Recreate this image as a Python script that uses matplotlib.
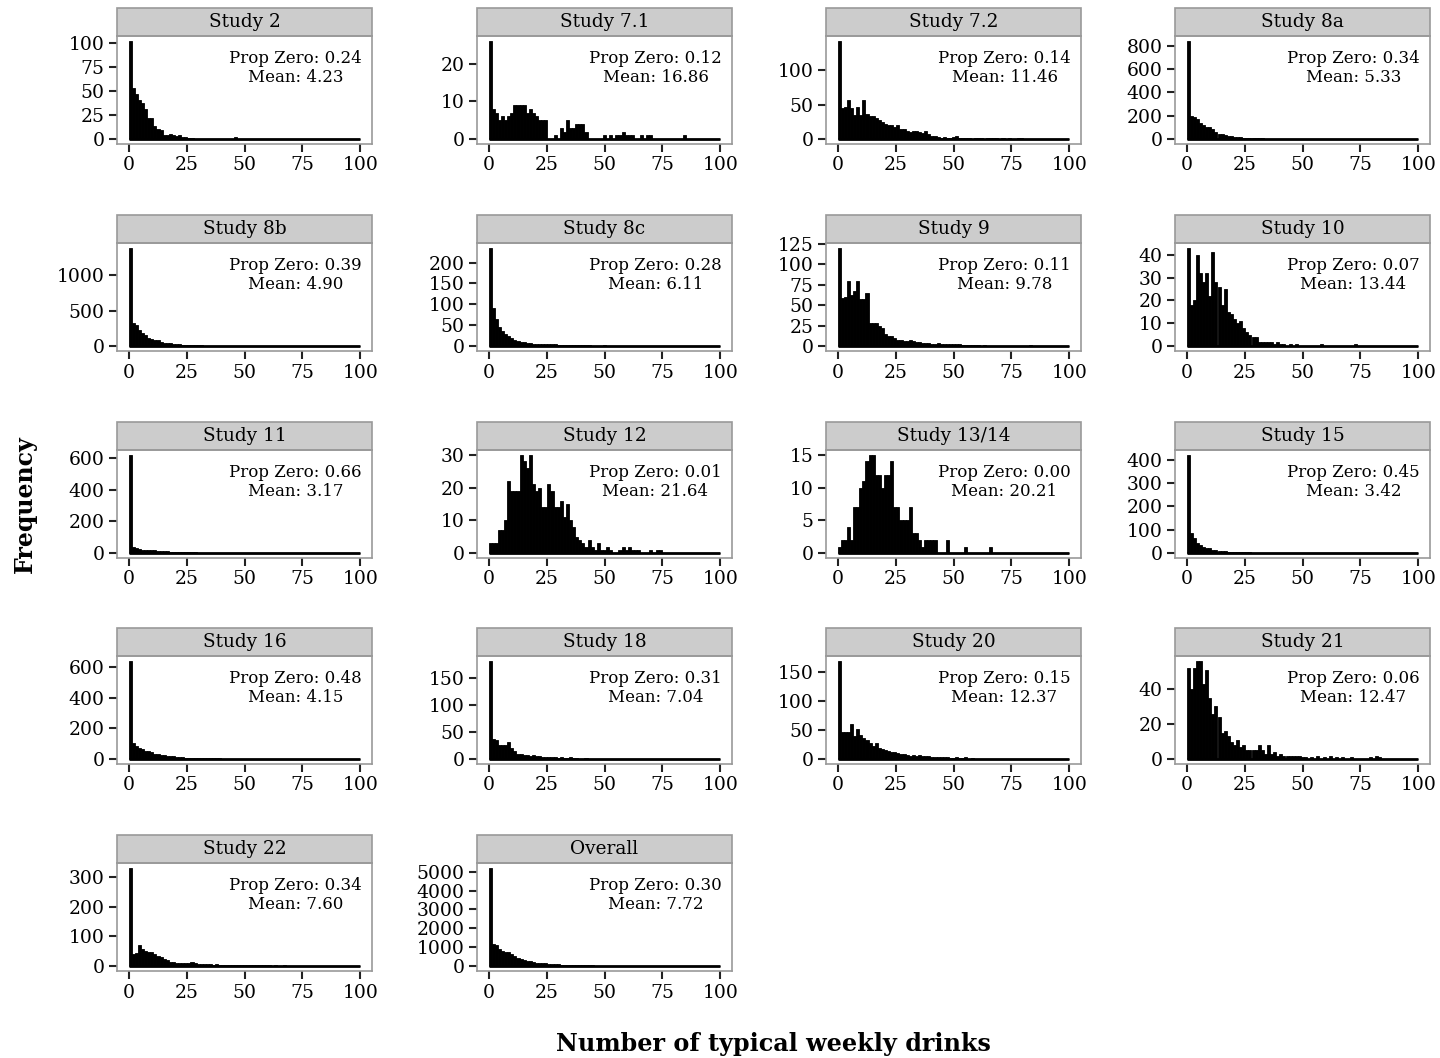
import matplotlib
matplotlib.use("Agg")
import matplotlib.pyplot as plt
from matplotlib.patches import Rectangle
from matplotlib.ticker import MultipleLocator
import numpy as np

plt.rcParams['font.family'] = ['DejaVu Serif']

# counts per bin (bins of 100/75 drinks starting at 0)
study2 = [102, 53, 47, 41, 37, 31, 22, 22, 14, 11, 9, 4, 4, 5, 4, 3, 4, 2, 2, 1, 1,
          0, 0, 0, 0, 0, 0, 0, 0, 0, 0, 0, 0, 0, 2]
study7_1 = [26, 8, 7, 5, 6, 5, 6, 7, 9, 9, 9, 9, 7, 8, 7, 6, 5, 5, 5, 0, 0, 1, 0, 3, 2,
            5, 3, 3, 4, 4, 4, 2, 0, 0, 0, 0, 0, 1, 0, 1, 0, 1, 1, 2, 1, 1, 1, 0, 0, 1,
            0, 1, 1, 0, 0, 0, 0, 0, 0, 0, 0, 0, 0, 1]
study7_2 = [142, 45, 46, 57, 45, 35, 46, 35, 57, 37, 33, 33, 30, 27, 25, 22, 21, 20, 18,
            20, 15, 14, 12, 10, 11, 12, 10, 9, 11, 7, 5, 4, 3, 2, 3, 2, 2, 3, 4, 1, 1, 1,
            1, 0, 1, 1, 1, 0, 1, 1, 2, 1, 0, 1, 0, 1, 0, 0, 1, 1]
study8a = [840, 200, 185, 175, 140, 120, 100, 100, 90, 60, 45, 40, 35, 25, 25, 20, 18,
           15, 12, 12, 10, 8, 8, 6, 6, 5, 5, 5, 4, 4, 4, 3, 3, 3, 3, 3, 2, 2, 2, 2, 2, 1,
           2, 1, 1, 2, 1, 1, 1, 1, 1, 1, 1, 0, 1, 1, 1, 0, 1, 1, 0, 1, 0, 1, 0, 0, 1, 0,
           0, 0, 1, 0, 0, 0, 1]
study8b = [1380, 320, 290, 230, 190, 150, 120, 100, 90, 80, 60, 50, 40, 40, 30, 25, 25,
           20, 20, 15, 15, 12, 10, 10, 8, 8, 6, 6, 5, 5, 5, 4, 4, 4, 3, 3, 3, 3, 2, 2, 2,
           2, 2, 2, 1, 1, 1, 1, 1, 1, 1, 1, 1, 1, 1, 1, 1, 1, 1, 1, 1, 1, 1, 1, 1, 1, 1,
           1, 1, 1, 1, 1, 1, 1, 2]
study8c = [235, 92, 65, 45, 35, 30, 25, 20, 15, 12, 10, 10, 8, 8, 6, 6, 5, 5, 5, 4, 4, 4,
           3, 3, 3, 3, 2, 2, 2, 2, 2, 2, 2, 1, 1, 1, 1, 2, 1, 1, 1, 1, 1, 1, 0, 1, 1, 0,
           1, 1, 0, 1, 0, 1, 0, 1, 0, 0, 1, 0, 1, 0, 0, 1, 0, 0, 1, 0, 0, 0, 1, 0, 0, 0, 1]
study9 = [120, 59, 60, 79, 62, 67, 80, 57, 58, 65, 28, 28, 28, 25, 22, 15, 12, 12, 10, 8,
          7, 6, 6, 7, 6, 5, 5, 4, 4, 4, 3, 3, 4, 3, 3, 2, 2, 3, 2, 2, 1, 1, 1, 1, 1, 1, 0,
          1, 0, 0, 0, 0, 0, 0, 0, 0, 0, 0, 0, 0, 0, 0, 1]
study10 = [43, 18, 20, 40, 32, 28, 32, 22, 41, 28, 26, 18, 25, 15, 14, 12, 10, 11, 8, 6,
           5, 4, 4, 2, 2, 2, 2, 2, 1, 2, 1, 1, 0, 1, 0, 1, 0, 0, 0, 0, 0, 0, 0, 1, 0, 0,
           0, 0, 0, 0, 0, 0, 0, 0, 1]
study11 = [620, 40, 30, 25, 22, 22, 20, 18, 20, 15, 15, 12, 12, 10, 10, 8, 8, 6, 5, 5, 4,
           4, 3, 3, 3, 2, 2, 2, 2, 2, 1, 1, 1, 1, 1, 1, 1, 1, 0, 1, 1, 0, 1, 0, 1, 0, 0,
           1, 0, 0, 1]
study12 = [3, 3, 3, 7, 7, 10, 22, 19, 19, 19, 30, 28, 26, 30, 21, 19, 20, 14, 14, 21, 19,
           14, 14, 16, 11, 15, 10, 8, 5, 4, 3, 2, 4, 2, 1, 3, 1, 1, 2, 1, 0, 0, 1, 2, 1,
           2, 1, 1, 1, 0, 0, 0, 1, 0, 1, 1]
study13_14 = [1, 2, 2, 4, 2, 7, 7, 10, 11, 14, 15, 15, 12, 12, 10, 12, 12, 14, 7, 7, 5, 5,
              5, 7, 3, 3, 2, 1, 2, 2, 2, 2, 0, 0, 0, 2, 0, 0, 0, 0, 0, 1, 0, 0, 0, 0, 0,
              0, 0, 1]
study15 = [420, 85, 65, 45, 35, 28, 22, 20, 15, 12, 10, 10, 8, 6, 6, 5, 4, 4, 3, 3, 3, 2,
           2, 2, 2, 2, 1, 1, 1, 1, 1, 1, 0, 1, 1, 0, 1, 0, 0, 1, 0, 1, 0, 0, 1]
study16 = [640, 105, 85, 70, 65, 55, 50, 45, 35, 30, 28, 25, 22, 20, 18, 15, 15, 12, 10,
           10, 8, 8, 7, 6, 6, 5, 5, 4, 4, 4, 3, 3, 3, 3, 2, 2, 2, 2, 2, 1, 2, 1, 1, 1, 1,
           1, 1, 1, 1, 1, 1, 0, 1, 1, 0, 1, 0, 1, 0, 0, 1, 0, 0, 1, 0, 0, 0, 1]
study18 = [182, 38, 36, 27, 26, 27, 32, 20, 15, 10, 10, 8, 8, 6, 7, 5, 5, 4, 4, 3, 3, 3,
           2, 3, 2, 2, 3, 2, 2, 1, 1, 2, 1, 1, 1, 0, 1, 1, 0, 1, 0, 0, 1, 0, 0, 0, 1]
study20 = [170, 47, 47, 47, 60, 40, 52, 42, 37, 33, 28, 22, 28, 20, 18, 16, 14, 12, 12,
           11, 9, 8, 7, 6, 7, 6, 7, 6, 5, 6, 4, 4, 3, 3, 3, 3, 2, 2, 3, 2, 2, 3, 1, 2, 1,
           1, 1, 1, 0, 1, 0, 0, 1, 0, 0, 1, 0, 0, 0, 1, 0, 0, 0, 0, 0, 0, 0, 0, 0, 0, 0,
           0, 1]
study21 = [52, 40, 52, 56, 56, 43, 51, 35, 26, 30, 24, 15, 16, 13, 10, 8, 11, 7, 8, 5, 5,
           5, 5, 8, 5, 3, 8, 3, 4, 2, 3, 2, 2, 2, 2, 2, 2, 1, 1, 0, 1, 0, 2, 0, 1, 0, 2,
           0, 1, 0, 1, 0, 0, 1, 0, 0, 0, 0, 0, 1, 0, 2, 1]
study22 = [330, 42, 44, 70, 57, 50, 48, 47, 40, 35, 30, 25, 20, 15, 14, 12, 12, 12, 10,
           12, 14, 10, 8, 8, 6, 6, 6, 5, 6, 5, 5, 4, 4, 4, 3, 3, 3, 3, 3, 2, 2, 2, 2, 2,
           2, 2, 1, 2, 1, 1, 2, 1, 1, 1, 1, 1, 1, 1, 1, 1, 1, 1, 1, 1, 0, 1, 1, 1, 0, 1,
           0, 1, 1, 0, 1]
overall = [5200, 1180, 1100, 920, 780, 760, 720, 640, 520, 430, 370, 330, 280, 260, 230,
           190, 170, 160, 140, 120, 110, 100, 90, 80, 75, 70, 60, 55, 50, 45, 40, 38, 35,
           32, 30, 28, 25, 22, 20, 18, 16, 15, 14, 12, 10, 10, 8, 8, 7, 7, 6, 6, 5, 5, 5,
           5, 4, 4, 4, 4, 4, 3, 3, 3, 3, 3, 3, 3, 3, 3, 3, 3, 3, 3, 5]

titles = ["Study 2", "Study 7.1", "Study 7.2", "Study 8a",
          "Study 8b", "Study 8c", "Study 9", "Study 10",
          "Study 11", "Study 12", "Study 13/14", "Study 15",
          "Study 16", "Study 18", "Study 20", "Study 21",
          "Study 22", "Overall"]
counts = [study2, study7_1, study7_2, study8a,
          study8b, study8c, study9, study10,
          study11, study12, study13_14, study15,
          study16, study18, study20, study21,
          study22, overall]
prop_zero = ["0.24", "0.12", "0.14", "0.34", "0.39", "0.28", "0.11", "0.07", "0.66",
             "0.01", "0.00", "0.45", "0.48", "0.31", "0.15", "0.06", "0.34", "0.30"]
means = ["4.23", "16.86", "11.46", "5.33", "4.90", "6.11", "9.78", "13.44", "3.17",
         "21.64", "20.21", "3.42", "4.15", "7.04", "12.37", "12.47", "7.60", "7.72"]
ystep = [25, 10, 50, 200, 500, 50, 25, 10, 200, 10, 5, 100, 200, 50, 50, 20, 100, 1000]

nbins = 75
binw = 100 / nbins

W, H = 1440, 1058
fig = plt.figure(figsize=(W / 100, H / 100), dpi=100)

lefts = [117, 477, 826, 1175]
strip_tops = [8, 215, 422, 628, 835]
pw, ph, sh = 255, 108, 28
border = '#999999'

for i, title in enumerate(titles):
    r, c = divmod(i, 4)
    top = strip_tops[r] + sh
    ax = fig.add_axes([lefts[c] / W, 1 - (top + ph) / H, pw / W, ph / H])

    y = np.zeros(nbins)
    y[:len(counts[i])] = counts[i]
    x = np.arange(nbins) * binw
    ax.bar(x, y, width=binw, align='edge', color='black', edgecolor='black', linewidth=0.6)
    # zero-height bins still show as a black line along the bottom
    ax.hlines(0, x[0], x[-1] + binw, color='black', linewidth=2)

    ymax = y.max()
    ax.set_xlim(-5, 105)
    ax.set_ylim(-0.05 * ymax, 1.05 * ymax)
    ax.xaxis.set_major_locator(MultipleLocator(25))
    ax.yaxis.set_major_locator(MultipleLocator(ystep[i]))
    ax.tick_params(direction='out', length=6, width=1.5, labelsize=13.5,
                   color='#222222', pad=3)
    for s in ax.spines.values():
        s.set_color(border)
        s.set_linewidth(1.2)

    ax.add_patch(Rectangle((0, 1), 1, sh / ph, transform=ax.transAxes, clip_on=False,
                           facecolor='#cccccc', edgecolor=border, linewidth=1.2))
    ax.text(0.5, 1 + sh / ph / 2, title, transform=ax.transAxes, ha='center',
            va='center', fontsize=13.3)
    ax.text(0.70, 0.70, "Prop Zero: " + prop_zero[i] + "\nMean: " + means[i],
            transform=ax.transAxes, ha='center', va='center', multialignment='center',
            fontsize=12, linespacing=1.15)

fig.text(25 / W, 1 - 504 / H, "Frequency", rotation=90, ha='center', va='center',
         fontsize=17, fontweight='bold')
fig.text(773 / W, 1 - 1044 / H, "Number of typical weekly drinks", ha='center',
         va='center', fontsize=17.2, fontweight='bold')

fig.savefig("out.png", dpi=100)
